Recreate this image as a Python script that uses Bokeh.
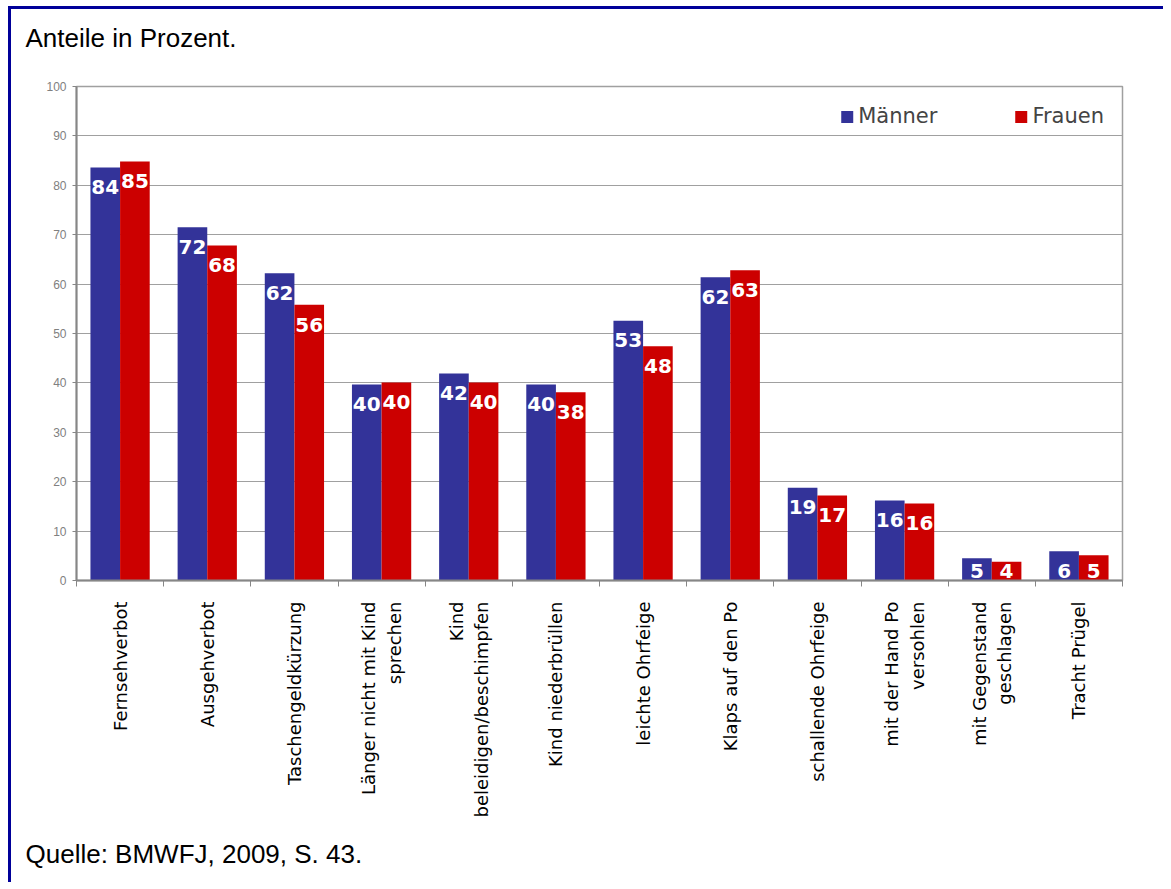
import numpy as np
from bokeh.plotting import figure
from bokeh.models import Range1d, FixedTicker, Title
from bokeh.core.properties import value
from bokeh.embed import file_html
from bokeh.resources import INLINE

categories = [
    "Fernsehverbot",
    "Ausgehverbot",
    "Taschengeldkürzung",
    "Länger nicht mit Kind\nsprechen",
    "Kind\nbeleidigen/beschimpfen",
    "Kind niederbrüllen",
    "leichte Ohrfeige",
    "Klaps auf den Po",
    "schallende Ohrfeige",
    "mit der Hand Po\nversohlen",
    "mit Gegenstand\ngeschlagen",
    "Tracht Prügel",
]
maenner = [83.6, 71.5, 62.2, 39.7, 41.9, 39.7, 52.6, 61.4, 18.8, 16.2, 4.5, 5.9]
frauen = [84.8, 67.8, 55.8, 40.1, 40.1, 38.1, 47.4, 62.8, 17.2, 15.6, 3.8, 5.1]
maenner_labels = ["84", "72", "62", "40", "42", "40", "53", "62", "19", "16", "5", "6"]
frauen_labels = ["85", "68", "56", "40", "40", "38", "48", "63", "17", "16", "4", "5"]
y_ticks = [0, 10, 20, 30, 40, 50, 60, 70, 80, 90, 100]

BLUE = "#333399"
RED = "#CC0000"
GRID = "#a0a0a0"
AXIS = "#868686"

idx = np.arange(len(categories))
bar_w = 0.34
xm = idx - bar_w / 2
xf = idx + bar_w / 2
m = np.array(maenner)
f = np.array(frauen)
lab_m = np.maximum(m - 4.0, 2.0)
lab_f = np.maximum(f - 4.0, 2.0)

p = figure(
    width=1155, height=876,
    x_range=Range1d(-0.5, len(categories) - 0.5),
    y_range=Range1d(0, 100),
    output_backend="svg", toolbar_location=None,
    min_border_left=65, min_border_right=44,
    min_border_top=77, min_border_bottom=305,
)
p.styles = {
    "border-top": "3px solid #000099",
    "border-left": "3px solid #000099",
    "margin-left": "8px",
    "margin-top": "6px",
}

p.vbar(x=xm, top=m, width=bar_w, fill_color=BLUE, line_color=None, legend_label="Männer")
p.vbar(x=xf, top=f, width=bar_w, fill_color=RED, line_color=None, legend_label="Frauen")

for xs, ys, labs in ((xm, lab_m, maenner_labels), (xf, lab_f, frauen_labels)):
    p.text(x=xs, y=ys, text=labs, text_color="white",
           text_font=value("DejaVu Sans"), text_font_style="bold",
           text_font_size="20px", text_align="center", text_baseline="middle")

# title (an empty second line lifts it away from the plot area) and footer
p.title.text = "Anteile in Prozent.\n"
p.title.text_font = "Liberation Sans"
p.title.text_font_size = "26px"
p.title.text_font_style = "normal"
p.title.text_color = "black"
p.title.align = "left"
p.title.offset = -51
p.title.standoff = 8

footer = Title(text="Quelle: BMWFJ, 2009, S. 43.", align="left", offset=-51,
               text_font="Liberation Sans", text_font_size="26px",
               text_font_style="normal", text_color="black", standoff=33)
p.add_layout(footer, "below")

# y axis
p.yaxis.ticker = FixedTicker(ticks=y_ticks)
p.yaxis.major_label_text_color = "#808080"
p.yaxis.major_label_text_font = "Liberation Sans"
p.yaxis.major_label_text_font_size = "12px"
p.yaxis.axis_line_color = AXIS
p.yaxis.axis_line_width = 2
p.yaxis.major_tick_line_color = AXIS
p.yaxis.major_tick_out = 4
p.yaxis.major_tick_in = 0
p.yaxis.minor_tick_line_color = None
p.yaxis.major_label_standoff = 6

# x axis
p.xaxis.ticker = FixedTicker(ticks=list(idx), minor_ticks=list(idx - 0.5) + [len(categories) - 0.5])
p.xaxis.major_label_overrides = {int(i): c for i, c in zip(idx, categories)}
p.xaxis.major_label_orientation = np.pi / 2
p.xaxis.major_label_text_font = "DejaVu Sans"
p.xaxis.major_label_text_font_size = "18px"
p.xaxis.major_label_text_color = "black"
p.xaxis.major_tick_out = 0
p.xaxis.major_tick_in = 0
p.xaxis.major_label_standoff = 15
p.xaxis.minor_tick_out = 6
p.xaxis.minor_tick_in = 0
p.xaxis.minor_tick_line_color = AXIS
p.xaxis.axis_line_color = AXIS
p.xaxis.axis_line_width = 2

p.xgrid.visible = False
p.ygrid.grid_line_color = GRID
p.ygrid.grid_line_width = 1
p.outline_line_color = GRID
p.outline_line_width = 1.5

lg = p.legend[0]
lg.orientation = "horizontal"
lg.location = "top_right"
lg.border_line_color = None
lg.background_fill_alpha = 0
lg.label_text_font = "DejaVu Sans"
lg.label_text_font_size = "21px"
lg.glyph_width = 15
lg.glyph_height = 15
lg.label_standoff = 4
lg.spacing = 76
lg.padding = 5
lg.margin = 18

open("out.html", "w").write(file_html(p, INLINE))
